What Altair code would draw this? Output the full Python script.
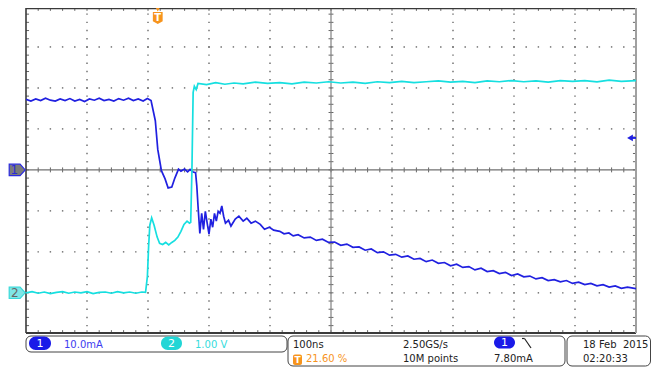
import altair as alt
import numpy as np
import pandas as pd

FONT = "DejaVu Sans"
BLUE = "#2020e0"
CYAN = "#16dfe0"
ORANGE = "#f7941d"
DARK = "#222222"

# ---- Channel 1 (current, mA) vs time (ns, relative to trigger), (t, mA) ----
ch1_pre = [(-216, 17.2), (-208, 16.8), (-200, 17.3), (-192, 16.9), (-184, 17.5),
           (-176, 17.0), (-168, 16.8), (-160, 17.3), (-152, 16.9), (-144, 17.4),
           (-136, 16.8), (-128, 17.2), (-120, 16.7), (-112, 17.3), (-104, 17.0),
           (-96, 17.5), (-88, 16.9), (-80, 17.2), (-72, 16.8), (-64, 17.4),
           (-56, 17.0), (-48, 17.5), (-40, 16.9), (-32, 17.3), (-24, 16.8),
           (-17, 17.4), (-11, 16.9)]
ch1_edge = [(-4, 12.0), (0, 5.0), (6, -0.2), (12, -2.2), (17, -4.4), (23, -4.2),
            (28, -2.0), (34, 0.2), (38, -0.3), (44, 0.2), (49, -0.5), (53, 0.1),
            (58, -0.5), (62, -0.7), (64, -3.9), (66, -8.8), (69, -15.5), (72, -10.6),
            (75, -14.5), (78, -10.1), (81, -13.0), (84, -15.7), (87, -12.0), (90, -14.0),
            (93, -10.6), (96, -12.5), (99, -10.1), (102, -10.6), (105, -8.8), (108, -11.3),
            (111, -13.0), (116, -12.3), (120, -13.7), (127, -12.0), (133, -11.3),
            (140, -12.5), (146, -11.8), (153, -13.0), (160, -12.5), (168, -13.3),
            (175, -14.5), (183, -14.0), (190, -14.7)]
ch1_decay = [(200, -15.0), (207, -15.6), (215, -15.4), (222, -16.1), (230, -15.8),
             (240, -16.6), (250, -16.4), (260, -17.2), (270, -16.9), (280, -17.7),
             (290, -17.6), (300, -18.4), (310, -18.1), (320, -18.9), (330, -18.8),
             (340, -19.6), (350, -19.3), (360, -20.2), (370, -20.0), (380, -20.8),
             (390, -20.6), (400, -21.3), (410, -21.0), (420, -21.8), (430, -21.6),
             (440, -22.4), (450, -22.0), (460, -22.8), (470, -22.6), (480, -23.4),
             (490, -23.0), (500, -23.8), (510, -23.6), (520, -24.4), (530, -24.0),
             (540, -24.8), (550, -24.6), (560, -25.3), (570, -25.0), (580, -25.8),
             (590, -25.4), (600, -26.1), (610, -25.9), (620, -26.6), (630, -26.3),
             (640, -27.0), (650, -26.8), (660, -27.3), (670, -27.0), (680, -27.7),
             (690, -27.4), (700, -28.0), (710, -27.7), (720, -28.3), (730, -28.0),
             (740, -28.6), (750, -28.3), (760, -28.9), (770, -28.6), (784, -29.0)]

# ---- Channel 2 (voltage, V) vs time (ns), (t, V) ----
ch2_pre = [(-216, 0.00), (-206, 0.03), (-196, -0.01), (-186, 0.02), (-176, -0.02),
           (-166, 0.01), (-156, 0.03), (-146, -0.01), (-136, 0.02), (-126, 0.00),
           (-116, 0.03), (-106, -0.02), (-96, 0.01), (-86, 0.02), (-76, -0.01),
           (-66, 0.03), (-56, 0.00), (-46, 0.02), (-36, -0.01), (-26, 0.02), (-20, 0.01)]
ch2_edge = [(-17, 0.40), (-15, 1.13), (-13, 1.65), (-10, 1.83), (-6, 1.65), (-1, 1.36),
            (3, 1.21), (8, 1.18), (13, 1.23), (18, 1.17), (23, 1.23), (28, 1.28),
            (33, 1.36), (38, 1.50), (43, 1.67), (48, 1.75), (52, 1.70), (54, 1.72),
            (56, 2.98), (58, 4.89), (60, 5.04), (63, 4.96)]
ch2_post = [(66, 5.11), (80, 5.08), (95, 5.13), (110, 5.09), (125, 5.12), (140, 5.10),
            (160, 5.14), (180, 5.11), (200, 5.13), (220, 5.10), (240, 5.14), (260, 5.12),
            (280, 5.15), (300, 5.12), (320, 5.14), (340, 5.11), (360, 5.15), (380, 5.13),
            (400, 5.16), (420, 5.13), (440, 5.15), (460, 5.17), (480, 5.14), (500, 5.16),
            (520, 5.13), (540, 5.17), (560, 5.15), (580, 5.18), (600, 5.15), (620, 5.17),
            (640, 5.14), (660, 5.18), (680, 5.16), (700, 5.18), (720, 5.15), (740, 5.19),
            (760, 5.16), (784, 5.18)]

# ---- Scope settings ----
CH1_PER_DIV = 10.0     # mA/div
CH2_PER_DIV = 1.0      # V/div
CH1_POS = 0.0          # div
CH2_POS = -3.0         # div
TRIG_LEVEL_MA = 7.80
NS_PER_DIV = 100.0
T_LEFT, T_RIGHT = -216.0, 784.0
Y_BOT, Y_TOP = -3.98, 3.95
T_CENTER = T_LEFT + 5 * NS_PER_DIV
W, H = 610, 325

xs = alt.Scale(domain=[T_LEFT, T_RIGHT], nice=False, zero=False)
ys = alt.Scale(domain=[Y_BOT, Y_TOP], nice=False, zero=False)

def XE(f):
    return alt.X(f, type="quantitative", scale=xs, axis=None)

def YE(f):
    return alt.Y(f, type="quantitative", scale=ys, axis=None)

p1 = pd.DataFrame(ch1_pre + ch1_edge + ch1_decay, columns=["t", "v"])
p2 = pd.DataFrame(ch2_pre + ch2_edge + ch2_post, columns=["t", "v"])
df1 = pd.DataFrame({"t": p1["t"], "y": p1["v"] / CH1_PER_DIV + CH1_POS})
df2 = pd.DataFrame({"t": p2["t"], "y": p2["v"] / CH2_PER_DIV + CH2_POS})

# ---- graticule dots ----
dots = []
for k in range(1, 10):
    if k == 5:
        continue
    for j in range(-19, 20):
        dots.append((T_LEFT + k * NS_PER_DIV, 0.2 * j))
for m in [-3, -2, -1, 1, 2, 3]:
    for j in range(1, 50):
        dots.append((T_LEFT + j * NS_PER_DIV / 5, m))
dots_df = pd.DataFrame(dots, columns=["t", "y"])

# ---- minor ticks ----
ticks = []
for j in range(-19, 20):
    y = 0.2 * j
    ticks.append((T_LEFT, T_LEFT + 5, y, y))
    ticks.append((T_RIGHT - 5, T_RIGHT, y, y))
    ticks.append((T_CENTER - 4, T_CENTER + 4, y, y))
for j in range(1, 50):
    x = T_LEFT + j * NS_PER_DIV / 5
    ticks.append((x, x, Y_TOP, Y_TOP - 0.07))
    ticks.append((x, x, Y_BOT, Y_BOT + 0.07))
    ticks.append((x, x, -0.06, 0.06))
ticks_df = pd.DataFrame(ticks, columns=["t", "t2", "y", "y2"])

frame_df = pd.DataFrame([
    (T_LEFT, T_RIGHT, 0, 0, "#707070", 1.2),
    (T_CENTER, T_CENTER, Y_BOT, Y_TOP, "#808080", 1.2),
    (T_LEFT, T_LEFT, Y_BOT, Y_TOP, "#3a3a3a", 1.6),
    (T_LEFT, T_RIGHT, Y_TOP, Y_TOP, "#3a3a3a", 2.4),
    (T_LEFT, T_RIGHT, Y_BOT, Y_BOT, "#3a3a3a", 2.0),
    (T_RIGHT, T_RIGHT, Y_BOT, Y_TOP, "#a0a0a0", 2.0),
], columns=["t", "t2", "y", "y2", "c", "w"])

grid_dots = alt.Chart(dots_df).mark_square(size=2, color="#6a6a6a", opacity=1).encode(
    x=XE("t"), y=YE("y"))
grid_ticks = alt.Chart(ticks_df).mark_rule(color="#666666", strokeWidth=1).encode(
    x=XE("t"), x2="t2", y=YE("y"), y2="y2")
frame = alt.Chart(frame_df).mark_rule().encode(
    x=XE("t"), x2="t2", y=YE("y"), y2="y2",
    color=alt.Color("c:N", scale=None),
    strokeWidth=alt.StrokeWidth("w:Q", scale=None))

trace1 = alt.Chart(df1).mark_line(color=BLUE, strokeWidth=1.7, clip=True).encode(
    x=XE("t"), y=YE("y"))
trace2 = alt.Chart(df2).mark_line(color=CYAN, strokeWidth=1.7, clip=True).encode(
    x=XE("t"), y=YE("y"))

# ---- channel ground markers ----
PENT = "M-1,-0.71L0.36,-0.71L1,0L0.36,0.71L-1,0.71Z"
m1_df = pd.DataFrame({"y": [CH1_POS]})
m2_df = pd.DataFrame({"y": [CH2_POS]})
mk1 = alt.Chart(m1_df).mark_point(shape=PENT, size=256, filled=True, fill="#7a7a7a",
                                  stroke="#2a2ae0", strokeWidth=1.2, opacity=1,
                                  fillOpacity=1, strokeOpacity=1).encode(
    x=alt.value(-8.8), y=YE("y"))
mk1t = alt.Chart(m1_df).mark_text(text="1", font=FONT, fontSize=12, color="#2a2ad8",
                                  baseline="middle", align="center").encode(
    x=alt.value(-11.8), y=YE("y"))
mk2 = alt.Chart(m2_df).mark_point(shape=PENT, size=256, filled=True, fill="#80e6e6",
                                  stroke="#3adada", strokeWidth=1.2, opacity=1,
                                  fillOpacity=1, strokeOpacity=1).encode(
    x=alt.value(-8.8), y=YE("y"))
mk2t = alt.Chart(m2_df).mark_text(text="2", font=FONT, fontSize=12, color="#666666",
                                  baseline="middle", align="center").encode(
    x=alt.value(-11.3), y=YE("y"))

# trigger level arrow (right edge)
tl_df = pd.DataFrame({"y": [TRIG_LEVEL_MA / CH1_PER_DIV + CH1_POS]})
tl_arrow = alt.Chart(tl_df).mark_point(shape="triangle-left", size=45, filled=True,
                                       color=BLUE, opacity=1).encode(
    x=alt.value(604), y=YE("y"))
tl_stem = alt.Chart(tl_df).mark_rule(color=BLUE, strokeWidth=2).encode(
    x=alt.value(604), x2=alt.value(610), y=YE("y"))

# trigger position marker (top)
tp_df = pd.DataFrame({"t": [0.0]})
SHIELD = "M-0.8,-1L0.8,-1L0.8,0.55L0,1L-0.8,0.55Z"
tp_tri = alt.Chart(tp_df).mark_point(shape="triangle-down", size=45, filled=True,
                                     color=ORANGE, opacity=1).encode(
    x=XE("t"), y=alt.value(0.5))
tp_badge = alt.Chart(tp_df).mark_point(shape=SHIELD, size=150, filled=True,
                                       color=ORANGE, opacity=1).encode(
    x=XE("t"), y=alt.value(10))
tp_text = alt.Chart(tp_df).mark_text(text="T", font=FONT, fontSize=10, fontWeight="bold",
                                     color="white", baseline="middle", align="center").encode(
    x=XE("t"), y=alt.value(9.5))

# ---- status bar ----
base = alt.Chart(pd.DataFrame({"k": [0]}))

def box(x0, x1, y0, y1, fill="white", stroke="#444444", r=5):
    return base.mark_rect(fill=fill, stroke=stroke, strokeWidth=1, cornerRadius=r).encode(
        x=alt.value(x0), x2=alt.value(x1), y=alt.value(y0), y2=alt.value(y1))

def pill(x0, x1, y0, y1, fill):
    return base.mark_rect(fill=fill, cornerRadius=7).encode(
        x=alt.value(x0), x2=alt.value(x1), y=alt.value(y0), y2=alt.value(y1))

def label(txt, x, y, color=DARK, size=10, align="left", baseline="alphabetic", weight="normal"):
    return base.mark_text(text=txt, font=FONT, fontSize=size, color=color, align=align,
                          baseline=baseline, fontWeight=weight).encode(
        x=alt.value(x), y=alt.value(y))

status = [
    box(0, 261, 328, 344),
    box(262, 539, 328, 358),
    box(541, 624.5, 328, 358),
    pill(3, 25, 328.5, 342, "#1a1ae8"),
    label("1", 14, 335.5, "white", 11, "center", "middle"),
    label("10.0mA", 38, 339.7, "#3c3cf0"),
    pill(135, 156, 328.5, 342, "#22d6d6"),
    label("2", 145.5, 335.5, "white", 11, "center", "middle"),
    label("1.00 V", 169, 339.7, "#36dcdc"),
    label("100ns", 267, 339.7),
    base.mark_rect(fill=ORANGE, cornerRadius=2).encode(
        x=alt.value(267), x2=alt.value(276), y=alt.value(346.5), y2=alt.value(357)),
    label("T", 271.5, 352, "white", 9, "center", "middle", "bold"),
    label("21.60 %", 280, 353.7, ORANGE),
    label("2.50GS/s", 377, 339.7),
    label("10M points", 377, 353.7),
    pill(468, 489, 328.5, 340.5, "#1a1ae8"),
    label("1", 478.5, 334.5, "white", 11, "center", "middle"),
    base.mark_rule(color=DARK, strokeWidth=1.2).encode(
        x=alt.value(496), x2=alt.value(498.5), y=alt.value(330.5), y2=alt.value(330.5)),
    base.mark_rule(color=DARK, strokeWidth=1.2).encode(
        x=alt.value(498.5), x2=alt.value(505), y=alt.value(330.5), y2=alt.value(340)),
    label("7.80mA", 468, 353.7),
    label("18 Feb\u00a0 2015", 557, 339.7),
    label("02:20:33", 557, 353.7),
]

chart = alt.layer(
    *status,
    grid_dots, grid_ticks, frame,
    trace1, trace2,
    mk1, mk1t, mk2, mk2t,
    tl_stem, tl_arrow,
    tp_tri, tp_badge, tp_text,
).properties(
    width=W, height=H,
    autosize=alt.AutoSizeParams(type="none"),
    padding={"left": 18, "top": 0, "right": 15, "bottom": 34},
    background="white",
).configure_view(stroke=None)

chart.save("out.html", embed_options={"renderer": "svg", "actions": False})
